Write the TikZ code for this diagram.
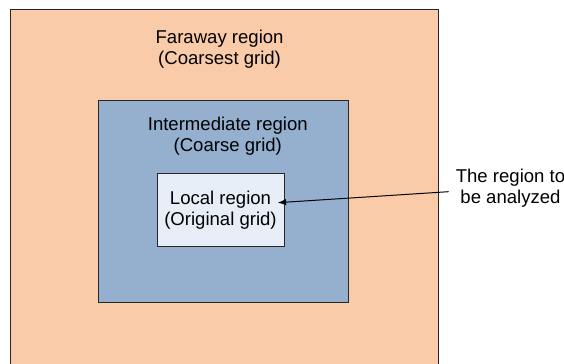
\documentclass[tikz,border=0pt]{standalone}
\usepackage{fontspec}
\setmainfont{Liberation Sans}
\usepackage{xcolor}
\usetikzlibrary{arrows.meta, calc, positioning}
\definecolor{Peach}{HTML}{F9CBA8}
\definecolor{Steel}{HTML}{95AFCF}
\definecolor{Pale}{HTML}{E8EEF7}
\definecolor{Edge}{HTML}{262626}

\tikzset{
  region/.style={draw=Edge, line width=0.7pt},
  caption/.style={align=center, inner sep=0pt, font=\fontsize{13.2}{15}\selectfont},
  pointer/.style={draw=black, line width=0.7pt, -{Latex[length=6pt,width=4.5pt]}}
}

\begin{document}
\begin{tikzpicture}
  \useasboundingbox (0,0) rectangle (14.1,9.1);

  \filldraw [region, fill=Peach] (0.25,-0.2) rectangle (10.95,8.85);
  \filldraw [region, fill=Steel] (2.45,1.525) rectangle (8.7,6.575);

  \node [caption] (faraway) at (5.49,7.875) {Faraway region\\(Coarsest grid)};
  \node [caption] (inter) at (5.695,5.7) {Intermediate region\\(Coarse grid)};

  \node [region, caption, fill=Pale, minimum width=3.175cm, minimum height=1.825cm]
    (local) at (5.5125,3.8375) {Local region\\(Original grid)};

  \node [caption, inner sep=0.175cm] (target) at (12.7625,4.3875) {The region to\\be analyzed};

  \draw [pointer] ([yshift=-0.08cm]target.west) -- ([shift={(-0.17,0.195)}]local.east);
\end{tikzpicture}
\end{document}
